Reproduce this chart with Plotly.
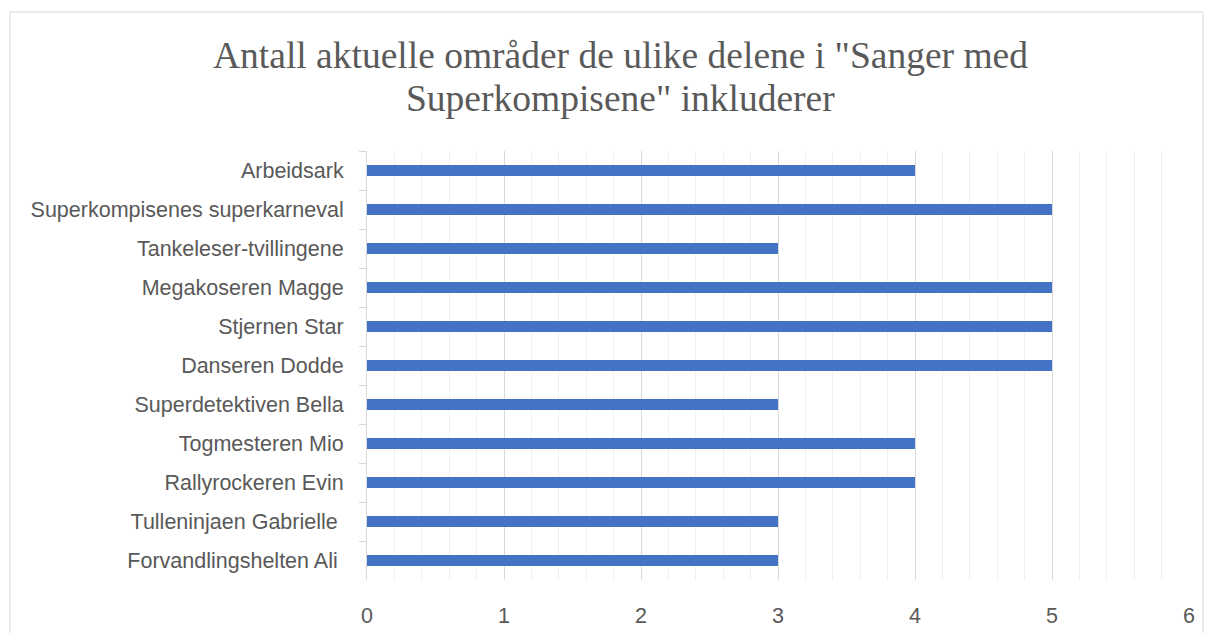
import plotly.graph_objects as go

categories = [
    "Arbeidsark",
    "Superkompisenes superkarneval",
    "Tankeleser-tvillingene",
    "Megakoseren Magge",
    "Stjernen Star",
    "Danseren Dodde",
    "Superdetektiven Bella",
    "Togmesteren Mio",
    "Rallyrockeren Evin",
    "Tulleninjaen Gabrielle\u00a0",
    "Forvandlingshelten Ali\u00a0",
]
values = [4, 5, 3, 5, 5, 5, 3, 4, 4, 3, 3]
x_ticks = [0, 1, 2, 3, 4, 5, 6]

title_lines = ['Antall aktuelle områder de ulike delene i "Sanger med', 'Superkompisene" inkluderer']

W, H = 1213, 633
L, R, T, B = 367, 24, 151, 53
pw = W - L - R
ph = H - T - B

fig = go.Figure(go.Bar(
    x=values, y=categories, orientation="h",
    marker=dict(color="#4472C4", line=dict(width=0)),
    width=0.28,
))

title_font = dict(family="Liberation Serif, Times New Roman, serif", size=37.5, color="#595959")
annotations = []
for text, ypx in zip(title_lines, [55, 98]):
    annotations.append(dict(
        text=text, xref="paper", yref="paper",
        x=(620 - L) / pw, y=1 + (T - ypx) / ph,
        xanchor="center", yanchor="middle", showarrow=False, font=title_font,
    ))

fig.update_layout(
    width=W, height=H,
    margin=dict(l=L, r=R, t=T, b=B, autoexpand=False),
    paper_bgcolor="white", plot_bgcolor="white",
    showlegend=False,
    font=dict(family="Liberation Sans, Arial, sans-serif", size=21.5, color="#595959"),
    xaxis=dict(
        range=[0, 6], tickvals=x_ticks, showgrid=True, gridcolor="#d9d9d9", gridwidth=1,
        zeroline=False, showline=False, ticks="", ticklabelstandoff=20, automargin=False,
        minor=dict(dtick=0.2, showgrid=True, gridcolor="#f0f0f0", gridwidth=1),
        fixedrange=True,
    ),
    yaxis=dict(
        autorange="reversed", showline=True, linecolor="#d9d9d9", linewidth=1,
        ticks="outside", tickson="boundaries", ticklen=7, tickcolor="#d9d9d9",
        showgrid=False, ticklabelstandoff=18, automargin=False, fixedrange=True,
    ),
    annotations=annotations,
    shapes=[dict(
        type="rect", xref="paper", yref="paper",
        x0=(10 - L) / pw, x1=(1203 - L) / pw,
        y0=-0.3, y1=1 + (T - 12) / ph,
        line=dict(color="#d9d9d9", width=1), fillcolor="rgba(0,0,0,0)", layer="below",
    )],
)

fig.write_html("out.html", post_script="document.body.style.margin='0';",
               config={"displayModeBar": False})
